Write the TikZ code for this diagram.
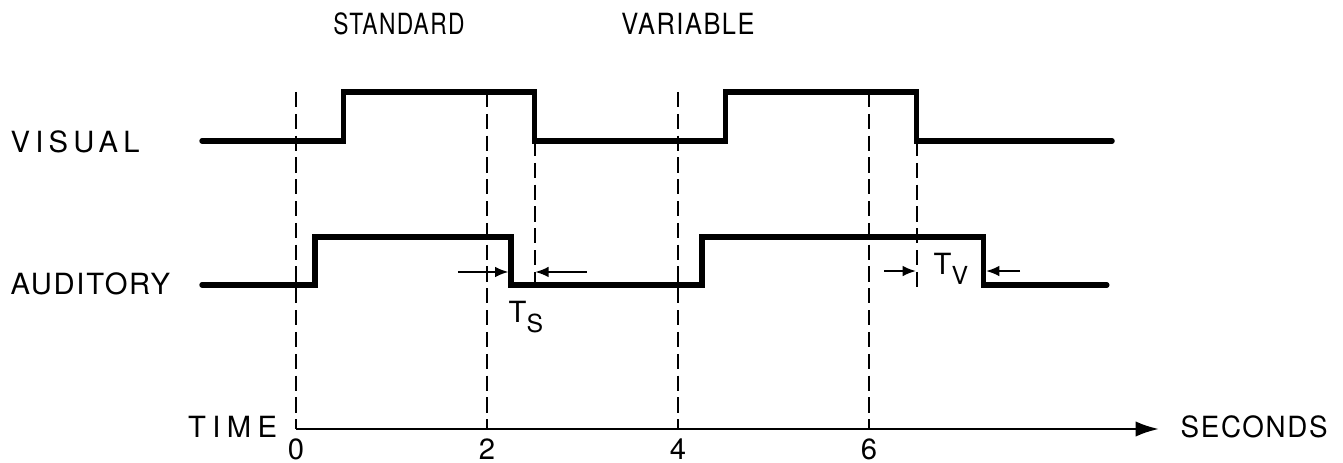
\documentclass[tikz,border=0pt]{standalone}
\usepackage{fontspec}
\setmainfont{TeX Gyre Heros}[LetterSpace=6]
\usetikzlibrary{arrows.meta}
\tikzset{
  trace/.style={line width=1.6pt, line cap=round, line join=miter},
  guide/.style={line width=0.6pt, dash pattern=on 4.5pt off 2pt},
  timeaxis/.style={line width=0.8pt, -{Latex[length=7pt,width=4.6pt]}},
  gap/.style={line width=0.6pt, -{Latex[length=4pt,width=3.2pt]}},
  lbl/.style={inner sep=0pt, font=\fontsize{8.7}{10}\selectfont}
}
\newcommand{\guide}[3]{\draw[guide] ( #1 , #2 ) -- ( #1 , #3 );}
\newcommand{\lablnode}[4]{\node[lbl] (#1) at ( #2 , #3 ) {#4};}
\newcommand{\sublbl}[2]{#1\raisebox{-0.65ex}{\fontsize{7.4}{8}\selectfont #2}}
\newcommand{\wide}[2]{{\addfontfeature{LetterSpace=#1}#2}}

\begin{document}
\begin{tikzpicture}
        \useasboundingbox (-3.099,-0.356) rectangle (10.963,4.492);

        % traces
        \draw[trace] (-0.984,3.016) -- (0.5,3.016) -- (0.5,3.529) -- (2.5,3.529) -- (2.5,3.016)
                -- (4.5,3.016) -- (4.5,3.529) -- (6.5,3.529) -- (6.5,3.016) -- (8.545,3.016);
        \draw[trace] (-0.984,1.508) -- (0.2,1.508) -- (0.2,2.010) -- (2.25,2.010) -- (2.25,1.508)
                -- (4.25,1.508) -- (4.25,2.010) -- (7.2,2.010) -- (7.2,1.508) -- (8.49,1.508);

        % dashed guides
        \guide{0}{3.529}{0}
        \guide{2}{3.529}{0}
        \guide{4}{3.529}{0}
        \guide{6}{3.529}{0}
        \guide{2.5}{3.016}{1.508}
        \guide{6.5}{3.016}{1.455}

        % time axis
        \coordinate (t0) at (0,0);
        \coordinate (tend) at (9.037,0);
        \draw[timeaxis] (t0) -- (tend);

        % gap arrows
        \coordinate (sa) at (1.696,1.644);
        \coordinate (sb) at (2.225,1.644);
        \coordinate (sc) at (3.047,1.644);
        \coordinate (sd) at (2.505,1.644);
        \coordinate (va) at (6.157,1.654);
        \coordinate (vb) at (6.492,1.654);
        \coordinate (vc) at (7.581,1.654);
        \coordinate (vd) at (7.225,1.654);
        \draw[gap] (sa) -- (sb);
        \draw[gap] (sc) -- (sd);
        \draw[gap] (va) -- (vb);
        \draw[gap] (vc) -- (vd);

        % labels
        \lablnode{std}{1.079}{4.241}{\scalebox{0.78}[1]{STANDARD}}
        \lablnode{var}{4.105}{4.241}{\scalebox{0.87}[1]{VARIABLE}}
        \node[lbl, anchor=west] (vis) at (-2.995,3.005) {\wide{18}{VISUAL}};
        \node[lbl, anchor=west] (aud) at (-2.995,1.518) {AUDITORY};
        \node[lbl, anchor=east] (time) at (-0.19,0.02) {\wide{22}{TIME}};
        \node[lbl, anchor=west] (sec) at (9.257,0.02) {\scalebox{0.95}[1]{SECONDS}};
        \node[lbl, anchor=base west] (ts) at (2.220,1.110) {\sublbl{T}{S}};
        \node[lbl, anchor=base west] (tv) at (6.670,1.613) {\sublbl{T}{V}};

        % numbers
        \lablnode{n0}{0}{-0.215}{0}
        \lablnode{n2}{2}{-0.215}{2}
        \lablnode{n4}{4}{-0.215}{4}
        \lablnode{n6}{6}{-0.215}{6}
\end{tikzpicture}
\end{document}
